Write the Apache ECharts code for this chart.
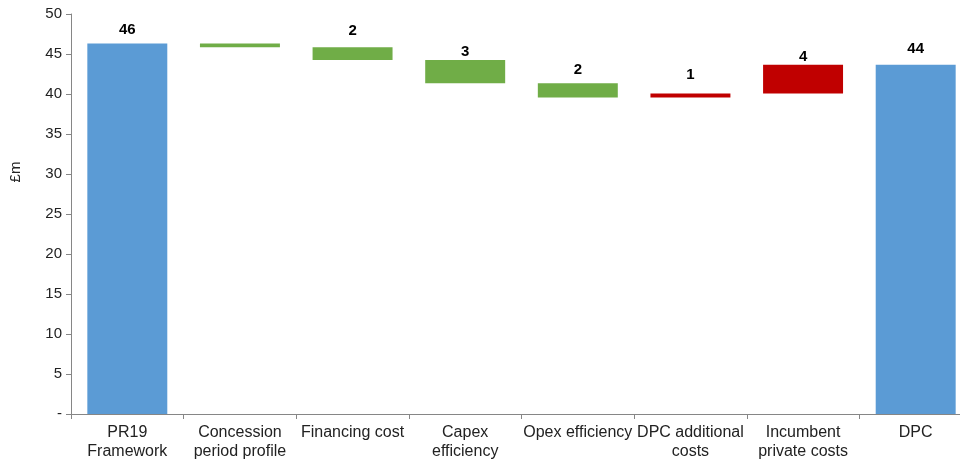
<!DOCTYPE html>
<html>
<head>
<meta charset="utf-8">
<script src="https://cdn.jsdelivr.net/npm/echarts@6/dist/echarts.min.js"></script>
<style>
html, body { margin: 0; padding: 0; background: #fff; overflow: hidden; width: 960px; height: 464px; }
/* the original picture is cropped on the right, so the chart is a little wider than the window */
#chart { width: 972px; height: 464px; }
</style>
</head>
<body>
<div id="chart"></div>
<script>
// waterfall steps, £m
const categories = ['PR19\nFramework', 'Concession\nperiod profile', 'Financing cost', 'Capex\nefficiency',
	'Opex efficiency', 'DPC additional\ncosts', 'Incumbent\nprivate costs', 'DPC']
const startTotal = 46.3
const changes = [-0.45, -1.6, -2.9, -1.8, 0.5, 3.6]
const endTotal = 43.65
const barLabels = ['46', '', '2', '3', '2', '1', '4', '44']
const yTicks = [0, 50, 5]

const BLUE = '#5B9BD5'
const GREEN = '#70AD47'
const RED = '#C00000'
// gap between bar top and its label, px (labels sit unevenly in the original)
const labelGap = [6, 6, 9, 1, 6, 11, 0, 8]

// build invisible base + visible height for the stacked waterfall
const base = [0]
const height = [{ value: startTotal, itemStyle: { color: BLUE } }]
let running = startTotal
changes.forEach((d) => {
	const next = running + d
	base.push(Math.min(running, next))
	height.push({ value: Math.abs(d), itemStyle: { color: d < 0 ? GREEN : RED } })
	running = next
})
base.push(0)
height.push({ value: endTotal, itemStyle: { color: BLUE } })
height.forEach((item, i) => {
	item.label = { distance: labelGap[i] }
})

const chart = echarts.init(document.getElementById('chart'), null, { renderer: 'canvas' })

const font = 'Liberation Sans, Arial, sans-serif'

chart.setOption({
	animation: false,
	textStyle: { fontFamily: font },
	grid: { left: 71, top: 14, right: 0, bottom: 50 },
	xAxis: {
		type: 'category',
		data: categories,
		axisLine: { lineStyle: { color: '#868686' } },
		axisTick: { show: true, length: 5, lineStyle: { color: '#868686' } },
		axisLabel: { color: '#222', fontSize: 16, lineHeight: 19, margin: 9, interval: 0 },
	},
	yAxis: {
		type: 'value',
		min: yTicks[0],
		max: yTicks[1],
		interval: yTicks[2],
		splitLine: { show: false },
		axisLine: { show: true, lineStyle: { color: '#868686' } },
		axisTick: { show: true, length: 5, lineStyle: { color: '#868686' } },
		axisLabel: {
			color: '#222',
			fontSize: 15,
			margin: 9,
			formatter: (v) => (v === 0 ? '-' : v),
		},
	},
	graphic: [
		{
			type: 'text',
			x: 16,
			y: 172,
			rotation: Math.PI / 2,
			style: { text: '£m', font: '15px ' + font, fill: '#222', align: 'center', verticalAlign: 'middle' },
		},
	],
	series: [
		{
			type: 'bar',
			stack: 'wf',
			data: base,
			itemStyle: { color: 'transparent' },
			silent: true,
			barCategoryGap: '29%',
		},
		{
			type: 'bar',
			stack: 'wf',
			data: height,
			barCategoryGap: '29%',
			label: {
				show: true,
				position: 'top',
				color: '#000',
				fontSize: 15,
				fontWeight: 'bold',
				formatter: (p) => barLabels[p.dataIndex],
			},
		},
	],
})
</script>
</body>
</html>
